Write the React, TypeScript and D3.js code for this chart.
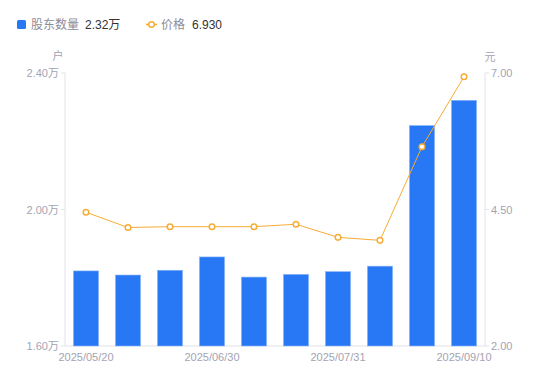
import React from "react";
import * as d3 from "d3";

const categories = ["2025/05/20","2025/05/30","2025/06/20","2025/06/30","2025/07/10","2025/07/18","2025/07/31","2025/08/20","2025/08/29","2025/09/10"];
const holders = [1.82, 1.808, 1.822, 1.861, 1.802, 1.81, 1.818, 1.834, 2.246, 2.32];
const prices = [4.45, 4.17, 4.185, 4.185, 4.185, 4.23, 3.99, 3.935, 5.65, 6.93];
const leftTicks = [1.6, 2.0, 2.4];
const rightTicks = [2.0, 4.5, 7.0];
const xLabelIdx = [0, 3, 6, 9];

const W = 550, H = 381;
const M = { left: 65, right: 485, top: 73, bottom: 346 };
const FONT = "'Liberation Sans', Arial, 'Noto Sans CJK SC', sans-serif";
const BLUE = "#2878f5";
const ORANGE = "#f7ac35";
const AXIS = "#e3e3ea";
const LABEL = "#a3a3b3";

export default function App() {
  const x = d3.scaleBand<string>().domain(categories).range([M.left, M.right]).paddingInner(0.4).paddingOuter(0.2);
  const yL = d3.scaleLinear().domain([1.6, 2.4]).range([M.bottom, M.top]);
  const yR = d3.scaleLinear().domain([2, 7]).range([M.bottom, M.top]);
  const cx = (c: string) => (x(c) as number) + x.bandwidth() / 2;
  const line = d3.line<number>().x((_, i) => cx(categories[i])).y((d) => yR(d));

  return (
    <svg width={W} height={H} style={{ position: "absolute", left: 0, top: 0, background: "#fff" }} fontFamily={FONT}>
      {/* legend */}
      <rect x={17} y={20} width={9} height={9} rx={1.5} fill={BLUE} />
      <text x={31} y={29} fontSize={12} fill="#8c8c9a">股东数量</text>
      <text x={85} y={29} fontSize={12} fill="#333">2.32万</text>
      <line x1={146} x2={157} y1={24.5} y2={24.5} stroke={ORANGE} strokeWidth={1.5} />
      <circle cx={151.5} cy={24.5} r={2.8} fill="#fff" stroke={ORANGE} strokeWidth={1.5} />
      <text x={161} y={29} fontSize={12} fill="#8c8c9a">价格</text>
      <text x={192} y={29} fontSize={12} fill="#333">6.930</text>

      {/* unit labels */}
      <text x={58} y={60} fontSize={11} fill={LABEL} textAnchor="middle">户</text>
      <text x={490} y={61} fontSize={11} fill={LABEL} textAnchor="middle">元</text>

      {/* axes */}
      <line x1={M.left} x2={M.left} y1={M.top} y2={M.bottom} stroke={AXIS} />
      <line x1={M.right} x2={M.right} y1={M.top} y2={M.bottom} stroke={AXIS} />
      <line x1={M.left} x2={M.right} y1={M.bottom} y2={M.bottom} stroke={AXIS} />
      {leftTicks.map((t) => (
        <g key={"l" + t}>
          <line x1={M.left - 4} x2={M.left} y1={yL(t)} y2={yL(t)} stroke={AXIS} />
          <text x={M.left - 6} y={yL(t) + 4} fontSize={11} fill={LABEL} textAnchor="end">{t.toFixed(2)}万</text>
        </g>
      ))}
      {rightTicks.map((t) => (
        <g key={"r" + t}>
          <line x1={M.right} x2={M.right + 4} y1={yR(t)} y2={yR(t)} stroke={AXIS} />
          <text x={M.right + 6} y={yR(t) + 4} fontSize={11} fill={LABEL}>{t.toFixed(2)}</text>
        </g>
      ))}
      {xLabelIdx.map((i) => (
        <text key={"x" + i} x={cx(categories[i])} y={361} fontSize={11} fill={LABEL} textAnchor="middle">{categories[i]}</text>
      ))}

      {/* bars */}
      {holders.map((v, i) => (
        <rect key={"b" + i} x={x(categories[i])} y={yL(v)} width={x.bandwidth()} height={M.bottom - yL(v)} fill={BLUE} stroke="#8db8fa" strokeWidth={0.6} />
      ))}

      {/* line */}
      <path d={line(prices) || ""} fill="none" stroke={ORANGE} strokeWidth={1} />
      {prices.map((v, i) => (
        <circle key={"p" + i} cx={cx(categories[i])} cy={yR(v)} r={2.8} fill="#fff" stroke={ORANGE} strokeWidth={1.5} />
      ))}
    </svg>
  );
}
